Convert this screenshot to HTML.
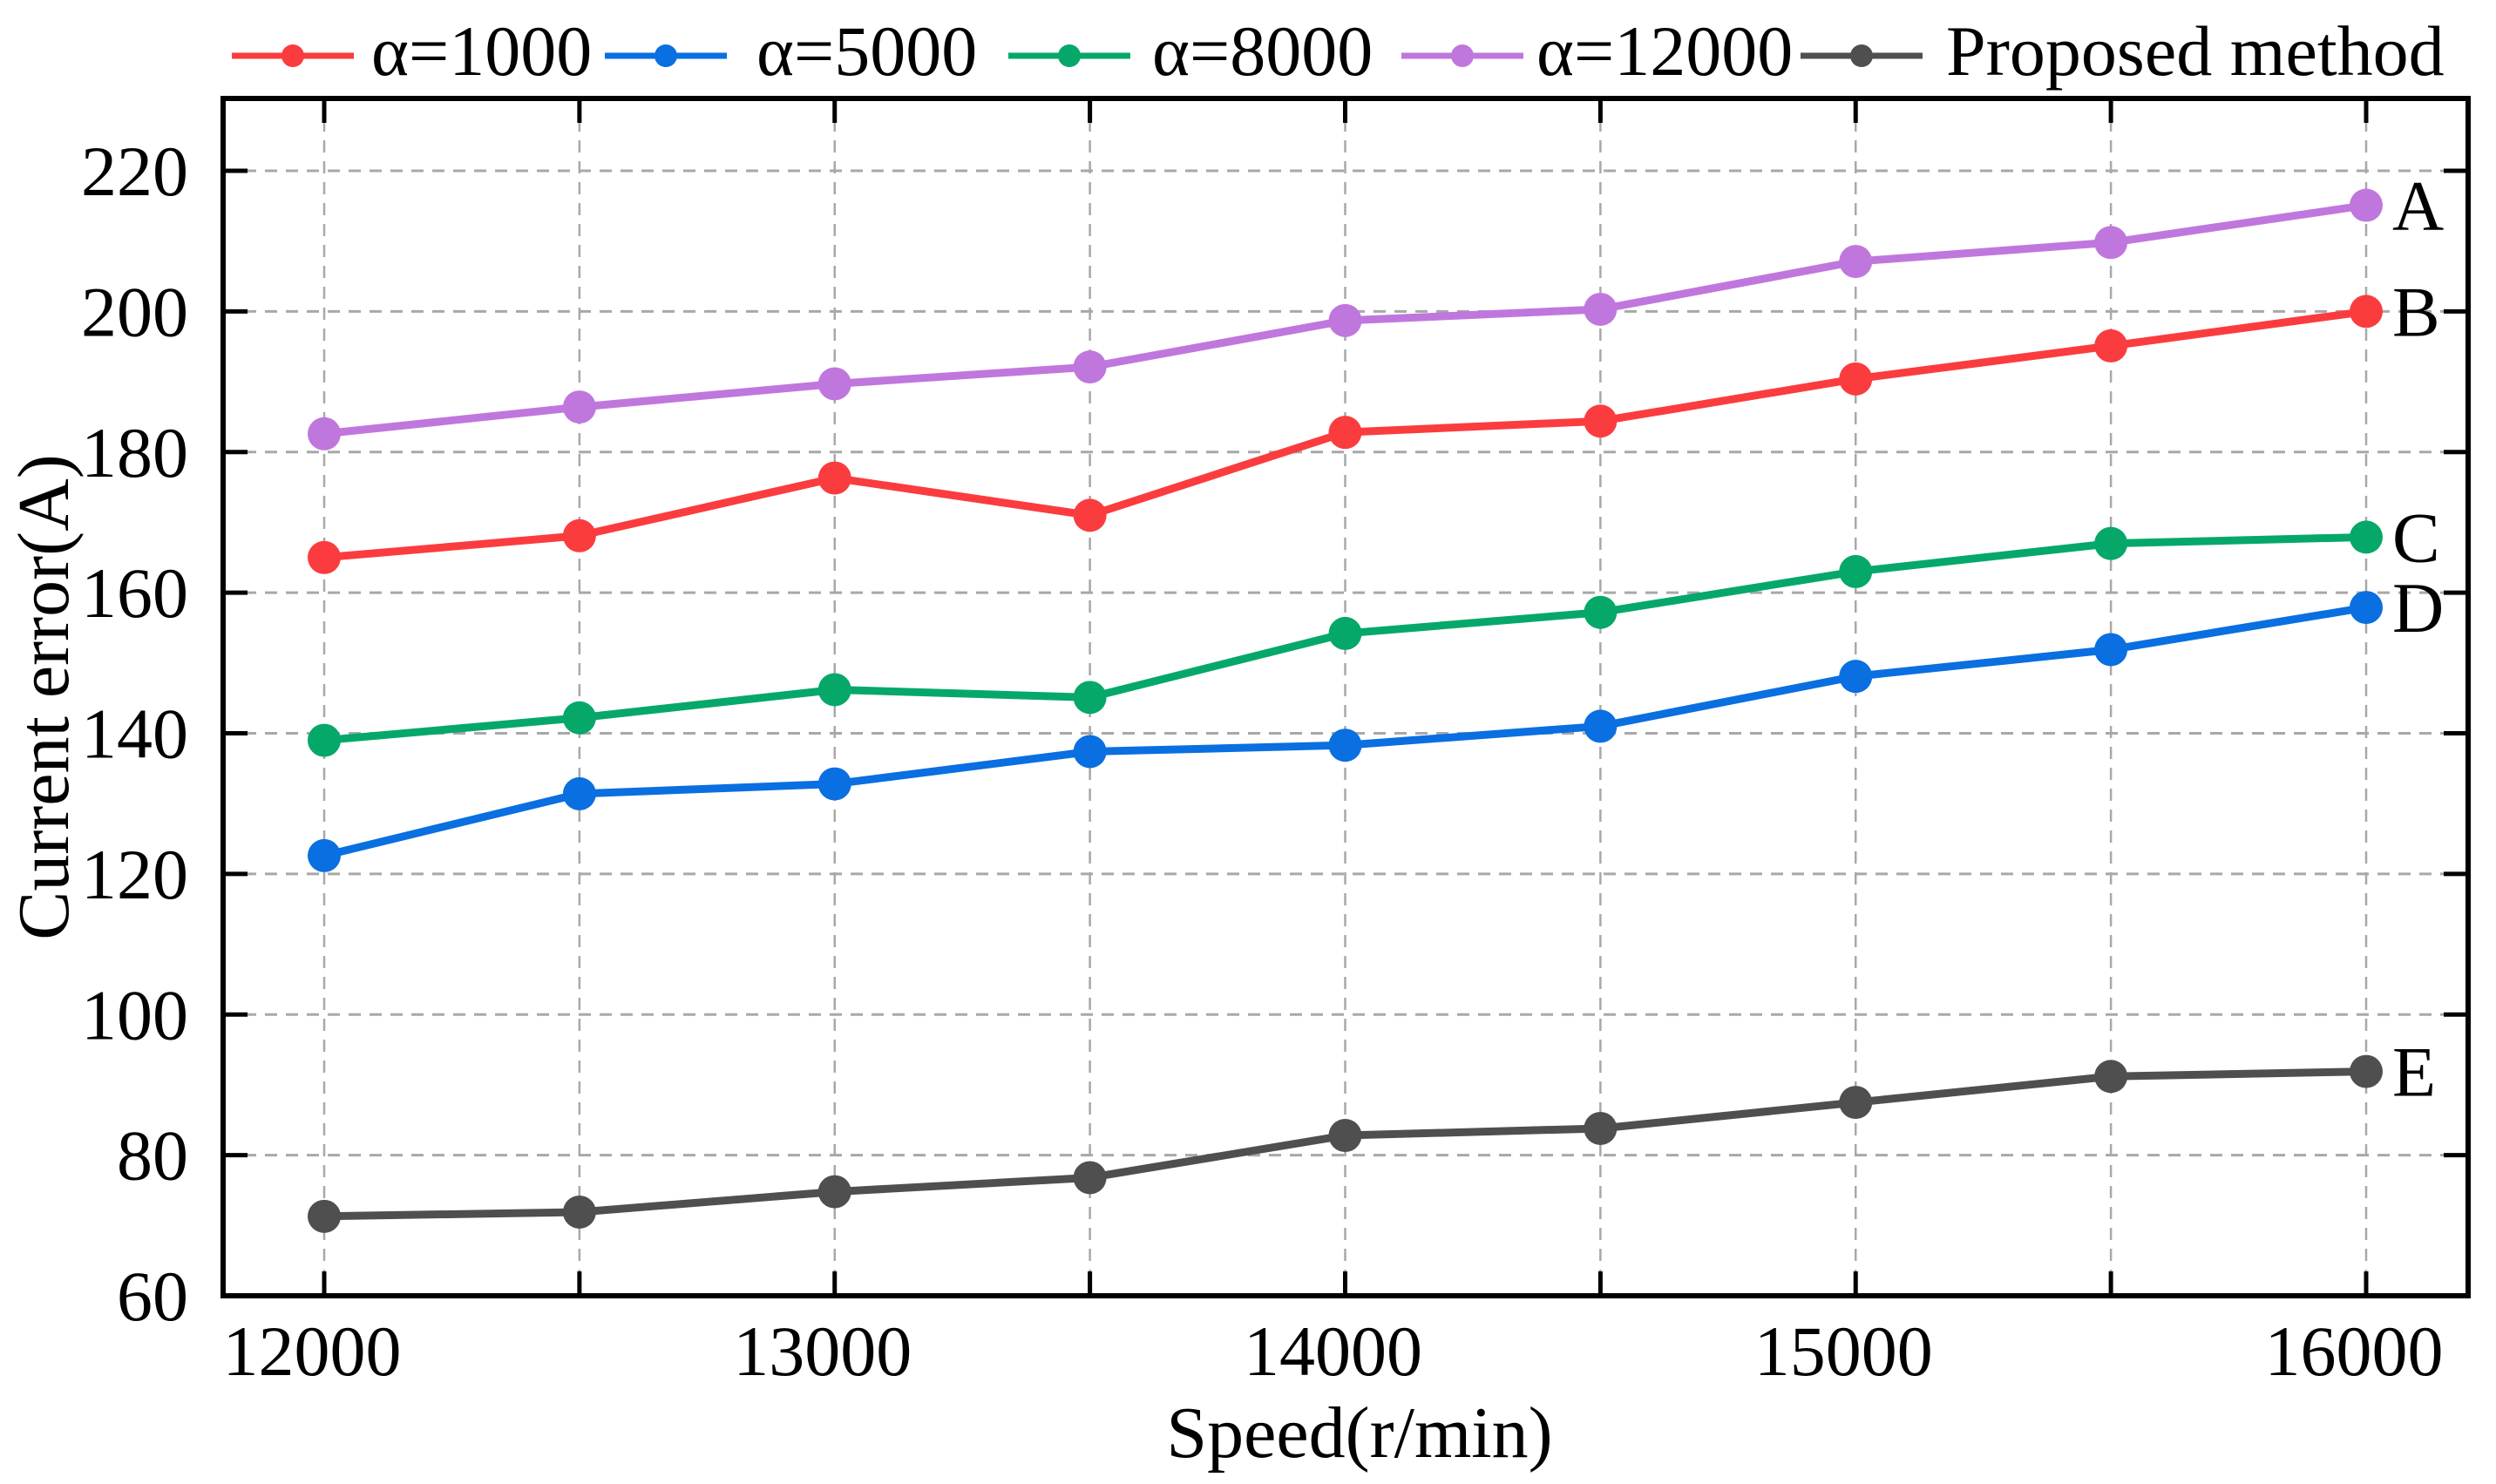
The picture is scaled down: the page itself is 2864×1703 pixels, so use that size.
<!DOCTYPE html>
<html><head><meta charset="utf-8"><title>Current error vs Speed</title>
<style>
html,body{margin:0;padding:0;background:#fff;}
svg{display:block;font-family:"Liberation Serif","Times New Roman",serif;}
</style></head>
<body>
<svg id="chart" width="2864" height="1703" viewBox="0 0 2864 1703" xmlns="http://www.w3.org/2000/svg">
  <g id="grid"></g>
  <g id="series"></g>
  <g id="axes"></g>
  <g id="legend"></g>
  <text x="1560" y="1672" font-size="84" text-anchor="middle">Speed(r/min)</text>
  <text x="0" y="0" font-size="84" text-anchor="middle" transform="translate(78,800) rotate(-90)">Current error(A)</text>
</svg>
<script>
const speeds = [12000, 12500, 13000, 13500, 14000, 14500, 15000, 15500, 16000];
const alpha12000 = [182.6, 186.4, 189.7, 192.1, 198.7, 200.3, 207.1, 209.8, 215.1];
const alpha1000 = [165.0, 168.1, 176.3, 171.0, 182.8, 184.4, 190.4, 195.1, 200.0];
const alpha8000 = [139.0, 142.2, 146.2, 145.1, 154.2, 157.2, 163.0, 167.0, 167.9];
const alpha5000 = [122.6, 131.4, 132.8, 137.4, 138.3, 141.0, 148.1, 151.9, 157.9];
const proposed = [71.3, 71.9, 74.8, 76.8, 82.8, 83.8, 87.5, 91.2, 91.9];
const yTicks = [60, 80, 100, 120, 140, 160, 180, 200, 220];
const xTicks = [12000, 13000, 14000, 15000, 16000];
const xMinorTicks = [12500, 13500, 14500, 15500];
const seriesNames = ["α=1000", "α=5000", "α=8000", "α=12000", "Proposed method"];
const endLabels = ["B", "D", "C", "A", "E"];

const NS = "http://www.w3.org/2000/svg";
const L = 256, R = 2832, T = 113, B = 1487;
function xs(v){ return 372 + (v - 12000) * (2715 - 372) / 4000; }
function ys(v){ return 1487 - (v - 60) * (1487 - 196) / 160; }
function mk(tag, attrs, parent){
  const e = document.createElementNS(NS, tag);
  for (const k in attrs) e.setAttribute(k, attrs[k]);
  parent.appendChild(e); return e;
}
const grid = document.getElementById('grid');
const axes = document.getElementById('axes');
const sg = document.getElementById('series');
const lg = document.getElementById('legend');

speeds.forEach(s => {
  const g = mk('line', {x1: xs(s), x2: xs(s), y1: T, y2: B, stroke: '#a8a8a8', 'stroke-width': 2.5, 'stroke-dasharray': '14,10'}, grid);
  
  
});
yTicks.forEach(v => {
  if (v === 60) return;
  const g = mk('line', {x1: L, x2: R, y1: ys(v), y2: ys(v), stroke: '#a8a8a8', 'stroke-width': 3, 'stroke-dasharray': '14,10'}, grid);
  
  
});

const colors = ['#fb3c3e', '#0a6fe0', '#06a86a', '#c077dd', '#4f4f4f'];
const data = [alpha1000, alpha5000, alpha8000, alpha12000, proposed];
const order = [3, 0, 2, 1, 4];
order.forEach(i => {
  const vals = data[i];
  const pts = vals.map((v, j) => xs(speeds[j]) + ',' + ys(v)).join(' ');
  const pl = mk('polyline', {points: pts, fill: 'none', stroke: colors[i], 'stroke-width': 9, 'stroke-linejoin': 'round'}, sg);
  
  
  vals.forEach((v, j) => {
    const c = mk('circle', {cx: xs(speeds[j]), cy: ys(v), r: 19, fill: colors[i]}, sg);
    
    
  });
  const t = mk('text', {x: xs(speeds[speeds.length-1]) + 30, y: ys(vals[vals.length-1]) + 28, 'font-size': 82}, sg);
  t.textContent = endLabels[i];
  
  
});

const fr = mk('rect', {x: L, y: T, width: R - L, height: B - T, fill: 'none', stroke: '#000', 'stroke-width': 6}, axes);


xTicks.concat(xMinorTicks).forEach(v => {
  const len = 28;
  const a = mk('line', {x1: xs(v), x2: xs(v), y1: B, y2: B - len, stroke: '#000', 'stroke-width': 5}, axes);
  
  
  const b = mk('line', {x1: xs(v), x2: xs(v), y1: T, y2: T + len, stroke: '#000', 'stroke-width': 5}, axes);
  
  
});
xTicks.forEach(v => {
  const t = mk('text', {x: xs(v) - 14, y: 1578, 'font-size': 82, 'text-anchor': 'middle'}, axes);
  t.textContent = v;
  
  
});
yTicks.forEach(v => {
  const a = mk('line', {x1: L, x2: L + 28, y1: ys(v), y2: ys(v), stroke: '#000', 'stroke-width': 5}, axes);
  
  
  const b = mk('line', {x1: R, x2: R - 28, y1: ys(v), y2: ys(v), stroke: '#000', 'stroke-width': 5}, axes);
  
  
  const t = mk('text', {x: 216, y: ys(v) + 28, 'font-size': 82, 'text-anchor': 'end'}, axes);
  t.textContent = v;
  
  
});

const legX = [266, 694, 1157, 1608, 2066];
const legTextX = [426, 868, 1322, 1763, 2233];
seriesNames.forEach((n, i) => {
  const x0 = legX[i];
  const ln = mk('line', {x1: x0, x2: x0 + 140, y1: 64, y2: 64, stroke: colors[i], 'stroke-width': 7}, lg);
  
  
  const c = mk('circle', {cx: x0 + 70, cy: 64, r: 13, fill: colors[i]}, lg);
  
  
  const t = mk('text', {x: legTextX[i], y: 86, 'font-size': 82}, lg);
  t.textContent = n;
  
  
});
</script>
</body></html>
